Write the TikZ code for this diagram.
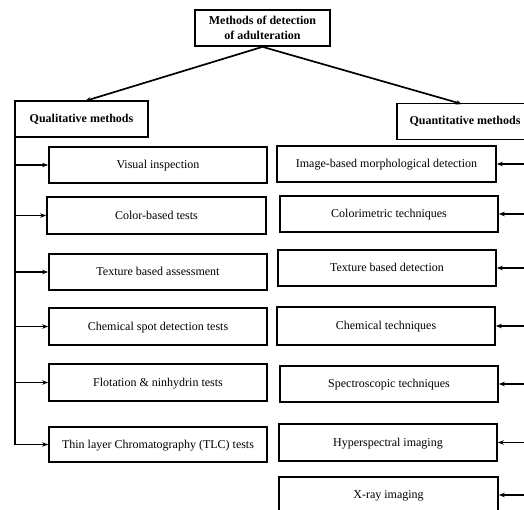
\documentclass[tikz,border=0pt]{standalone}
\usepackage{fontspec}
\setmainfont{Liberation Serif}
\usetikzlibrary{arrows.meta}
\begin{document}
\begin{tikzpicture}[x=1pt,y=-1pt,
  box/.style={draw, line width=1.7pt, inner sep=0pt, minimum width=218pt, minimum height=36pt, text height=9pt, text depth=2pt, font=\fontsize{12}{13.5}\selectfont},
  head/.style={draw, line width=1.7pt, inner sep=0pt, minimum height=36pt, font=\bfseries\fontsize{12}{15.5}\selectfont, align=center},
  conn/.style={line width=1.7pt, -{Stealth[length=6pt,width=4.5pt]}},
  trunk/.style={line width=1.7pt}]
\useasboundingbox (0,0) rectangle (524,509);
\clip (0,0) rectangle (524,509);
\fill[white] (0,0) rectangle (524,509);
% heads
\node[head, minimum width=135pt] (top) at (262.5,28) {Methods of detection\\of adulteration};
\node[head, minimum width=133pt] (qual) at (81.5,119) {Qualitative methods};
\node[head, minimum width=136pt] (quant) at (465,121.5) {Quantitative methods};
\coordinate (qa) at (85,101);
\coordinate (qb) at (462,104);
\draw[conn] (top.south) -- (qa);
\draw[conn] (top.south) -- (qb);
% left boxes
\node[box] (l1) at (158,165) {Visual inspection};
\node[box, minimum width=219pt, minimum height=37pt] (l2) at (156.5,215.5) {Color-based tests};
\node[box] (l3) at (158,272) {Texture based assessment};
\node[box, minimum height=37pt] (l4) at (158,326.5) {Chemical spot detection tests};
\node[box, minimum height=37pt] (l5) at (158,382.5) {Flotation \& ninhydrin tests};
\node[box, minimum height=35pt] (l6) at (158,444.5) {Thin layer Chromatography (TLC) tests};
\coordinate (t0) at (15,137);
\coordinate (t1) at (15,165);
\coordinate (t2) at (15,215.5);
\coordinate (t3) at (15,272);
\coordinate (t4) at (15,326.5);
\coordinate (t5) at (15,382.5);
\coordinate (t6) at (15,444.5);
\draw[trunk] (t0) -- (t6);
\draw[conn] (t1) -- (l1.west);
\draw[conn] (t2) -- (l2.west);
\draw[conn] (t3) -- (l3.west);
\draw[conn] (t4) -- (l4.west);
\draw[conn] (t5) -- (l5.west);
\draw[conn] (t6) -- (l6.west);
% right boxes
\node[box, minimum width=219pt] (r1) at (386.5,164) {Image-based morphological detection};
\node[box] (r2) at (389,214) {Colorimetric techniques};
\node[box] (r3) at (387,268) {Texture based detection};
\node[box, minimum height=38pt] (r4) at (386,326) {Chemical techniques};
\node[box] (r5) at (389,384) {Spectroscopic techniques};
\node[box, minimum height=37pt] (r6) at (388,442.5) {Hyperspectral imaging};
\node[box, minimum width=219pt] (r7) at (388.5,495) {X-ray imaging};
\coordinate (s1) at (530,164);
\coordinate (s2) at (530,214);
\coordinate (s3) at (530,268);
\coordinate (s4) at (530,326);
\coordinate (s5) at (530,384);
\coordinate (s6) at (530,442.5);
\coordinate (s7) at (530,495);
\draw[conn] (s1) -- (r1.east);
\draw[conn] (s2) -- (r2.east);
\draw[conn] (s3) -- (r3.east);
\draw[conn] (s4) -- (r4.east);
\draw[conn] (s5) -- (r5.east);
\draw[conn] (s6) -- (r6.east);
\draw[conn] (s7) -- (r7.east);
\end{tikzpicture}
\end{document}
